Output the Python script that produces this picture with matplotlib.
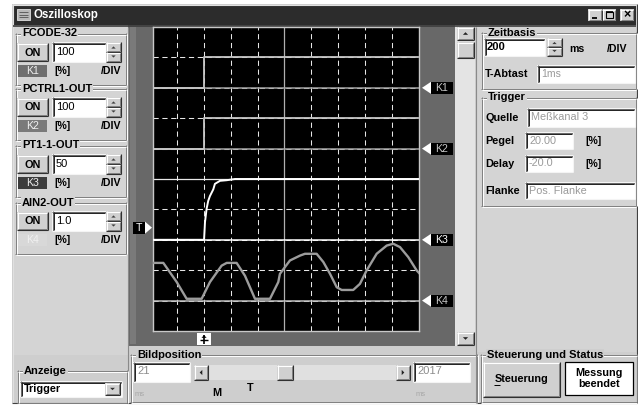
import matplotlib
matplotlib.use('Agg')
import matplotlib.pyplot as plt
from matplotlib.patches import Rectangle, Polygon
import numpy as np

plt.rcParams['font.family'] = ['Liberation Sans', 'DejaVu Sans']

# ---------------- data ----------------
channel_names = ['FCODE-32', 'PCTRL1-OUT', 'PT1-1-OUT', 'AIN2-OUT']
channel_labels = ['K1', 'K2', 'K3', 'K4']
channel_scale_txt = ['100', '100', '50', '1.0']
channel_scale = [100.0, 100.0, 50.0, 1.0]      # %/DIV
channel_offset = [8, 6, 3, 1]                   # zero level in divisions

time_k1 = [-400, 0, 0, 1600]                    # ms
k1 = [0, 0, 100, 100]                           # %
time_k2 = [-400, 0, 0, 1600]
k2 = [0, 0, 100, 100]
time_k3 = [-400, 0, 7, 19, 31, 44, 69, 81, 119, 169, 231, 1600]
k3 = [0, 0, 29, 51, 64, 72, 83, 92, 97, 98, 100, 100]
time_k4 = [-380, -304, -204, -130, -18, 44, 131, 169, 243, 305, 380, 492, 554, 566,
           641, 716, 753, 840, 890, 940, 990, 1027, 1113, 1163, 1213, 1288, 1363,
           1412, 1462, 1524, 1587, 1604]
k4 = [1.24, 1.24, 0.61, 0.06, 0.06, 0.61, 1.15, 1.24, 1.24, 0.82, 0.06, 0.06, 0.61,
      0.88, 1.32, 1.48, 1.54, 1.54, 1.27, 0.88, 0.44, 0.35, 0.35, 0.55, 0.99, 1.54,
      1.81, 1.87, 1.76, 1.43, 0.99, 0.91]

timebase = '200'
trigger_level = '20.00'
trigger_delay = '-20.0'
trigger_level_val = 20.0
trigger_channel = 2
bild_start = '21'
bild_end = '2017'

# ---------------- figure ----------------
W, H = 638, 405
fig = plt.figure(figsize=(W / 100, H / 100), dpi=100)
fig.patch.set_facecolor('white')
ui = fig.add_axes([0, 0, 1, 1])
ui.set_xlim(0, W)
ui.set_ylim(H, 0)
ui.axis('off')

BG = '#cecece'
PANEL = '#d4d4d4'
DARK = '#5a5a5a'
LIGHT = '#f4f4f4'
FS = 7.6


def rect(x, y, w, h, fc, ec='none', lw=0, z=1):
    ui.add_patch(Rectangle((x, y), w, h, facecolor=fc, edgecolor=ec, linewidth=lw, zorder=z))


def hline(x0, x1, y, c, lw=0.8, z=2):
    ui.plot([x0, x1], [y, y], color=c, lw=lw, zorder=z, solid_capstyle='butt')


def vline(x, y0, y1, c, lw=0.8, z=2):
    ui.plot([x, x], [y0, y1], color=c, lw=lw, zorder=z, solid_capstyle='butt')


def txt(x, y, s, c='black', fs=FS, bold=True, ha='left', va='center', z=5, **kw):
    ui.text(x, y, s, color=c, fontsize=fs, fontweight='bold' if bold else 'normal',
            ha=ha, va=va, zorder=z, **kw)


def sunken(x, y, w, h, fc='white'):
    rect(x, y, w, h, fc, z=2)
    hline(x, x + w, y + 0.5, '#6a6a6a', z=3)
    vline(x + 0.5, y, y + h, '#6a6a6a', z=3)
    hline(x + 1, x + w - 1, y + 1.5, '#202020', lw=0.7, z=3)
    vline(x + 1.5, y + 1, y + h - 1, '#202020', lw=0.7, z=3)
    hline(x, x + w, y + h - 0.5, LIGHT, z=3)
    vline(x + w - 0.5, y, y + h, LIGHT, z=3)


def raised(x, y, w, h, fc='#d0d0d0'):
    rect(x, y, w, h, fc, z=3)
    hline(x, x + w, y + 0.5, 'white', z=4)
    vline(x + 0.5, y, y + h, 'white', z=4)
    hline(x, x + w, y + h - 0.5, '#303030', z=4)
    vline(x + w - 0.5, y, y + h, '#303030', z=4)
    hline(x + 1, x + w - 1, y + h - 1.5, '#808080', lw=0.7, z=4)
    vline(x + w - 1.5, y + 1, y + h - 1, '#808080', lw=0.7, z=4)


def tri(cx, cy, s, direction, c='black'):
    if direction == 'up':
        pts = [(cx - s, cy + s / 2), (cx + s, cy + s / 2), (cx, cy - s / 2)]
    elif direction == 'down':
        pts = [(cx - s, cy - s / 2), (cx + s, cy - s / 2), (cx, cy + s / 2)]
    elif direction == 'left':
        pts = [(cx + s / 2, cy - s), (cx + s / 2, cy + s), (cx - s / 2, cy)]
    else:
        pts = [(cx - s / 2, cy - s), (cx - s / 2, cy + s), (cx + s / 2, cy)]
    ui.add_patch(Polygon(pts, closed=True, facecolor=c, edgecolor='none', zorder=6))


def groupbox(x, y, w, h, label, fs=8):
    for off, c in ((0, '#808080'), (1, 'white')):
        hline(x + off, x + w, y + off + 0.5, c, lw=0.7)
        hline(x + off, x + w, y + h - 1 + off + 0.5, c, lw=0.7)
        vline(x + off + 0.5, y + off, y + h, c, lw=0.7)
        vline(x + w - 1 + off + 0.5, y + off, y + h, c, lw=0.7)
    t = ui.text(x + 7, y + 0.5, label, fontsize=fs, fontweight='bold', ha='left',
                va='center', zorder=5, color='black')
    t.set_bbox(dict(facecolor=ui_bg[0], edgecolor='none', pad=0.6))


def spin(x, y, w, h):
    raised(x, y, w, h / 2)
    raised(x, y + h / 2, w, h / 2)
    tri(x + w / 2, y + h / 4 + 0.5, 2.2, 'up', '#404040')
    tri(x + w / 2, y + 3 * h / 4 - 0.5, 2.2, 'down', '#404040')


ui_bg = [BG]

# window
rect(12, 4, 625, 399, BG, z=0)
hline(12, 637, 4.5, '#e0e0e0')
vline(12.5, 4, 403, '#e0e0e0')
vline(636.5, 4, 403, '#404040')
hline(12, 637, 402.5, '#404040')

# title bar
rect(13, 5, 623, 20, '#2c2c2c', z=1)
rect(17, 9, 13, 11, '#b8b8b8', ec='#e0e0e0', lw=0.6, z=2)
for yy in (12, 14.5, 17):
    hline(19, 28, yy, '#505050', lw=0.6, z=3)
txt(34, 15, 'Oszilloskop', c='white', fs=8.3)
for bx, glyph in ((588, 'min'), (602, 'max'), (620, 'close')):
    raised(bx, 9, 14, 12)
    if glyph == 'min':
        hline(bx + 4, bx + 9, 17.5, 'black', lw=1.3, z=6)
    elif glyph == 'max':
        ui.add_patch(Rectangle((bx + 3.5, 11.5), 7, 6, facecolor='none', edgecolor='black', lw=0.8, zorder=6))
        hline(bx + 3.5, bx + 10.5, 12.3, 'black', lw=1.2, z=6)
    else:
        txt(bx + 7, 15.2, '×', fs=9, ha='center', bold=True)
hline(13, 636, 25.5, '#3c3c3c', lw=1.2)

# left panel
rect(13, 27, 115, 328, PANEL, z=1)
vline(127.5, 27, 403, '#8a8a8a')
ui_bg[0] = PANEL
tops = [33, 88, 145, 202]
kbox_fc = ['#6e6e6e', '#7a7a7a', '#3c3c3c', '#d8d8d8']
for i, top in enumerate(tops):
    groupbox(15, top, 111, 52, channel_names[i])
    raised(17, top + 10, 31, 18)
    txt(32.5, top + 19.5, 'ON', ha='center', fs=7.8)
    sunken(52, top + 9, 54, 20)
    txt(56, top + 19, channel_scale_txt[i], bold=False, fs=8)
    spin(106, top + 9, 15, 20)
    rect(18, top + 32, 29, 12, kbox_fc[i], z=3)
    txt(32.5, top + 38.3, channel_labels[i], c='#f0f0f0', ha='center', bold=False, fs=7.6)
    txt(54, top + 38.3, '[%]', fs=7.6)
    txt(121, top + 38.3, '/DIV', fs=7.6, ha='right')

ui_bg[0] = BG
groupbox(17, 370, 110, 33, 'Anzeige')
sunken(20, 381, 102, 16)
txt(24, 389.3, 'Trigger', fs=7.8)
raised(105, 383, 15, 12)
tri(112.5, 389, 2.4, 'down', '#303030')

# scope bezel
rect(128, 25, 327, 321, '#686868', z=1)
rect(130, 27, 6, 317, '#7a7a7a', z=1)

# right vertical scrollbar
rect(455, 26, 20, 320, '#e4e4e4', z=1)
raised(457, 27, 17, 13)
tri(465.5, 33.5, 2.6, 'up', '#202020')
raised(457, 42, 17, 16)
raised(457, 332, 17, 13)
tri(465.5, 338.5, 2.6, 'down', '#202020')

# scope screen geometry (pixels)
SX0, SX1 = 153, 419
SY0, SY1 = 27, 331
T0, T1 = -381, 1604
DIVH = (SY1 - SY0) / 10.0


def t2px(t):
    return SX0 + (t - T0) / (T1 - T0) * (SX1 - SX0)


def d2py(d):
    return SY1 - d * DIVH


# channel markers on the right
for i in range(4):
    py = d2py(channel_offset[i])
    ui.add_patch(Polygon([(422, py), (431, py - 6), (431, py + 6)], closed=True,
                         facecolor='white', edgecolor='none', zorder=5))
    rect(431, py - 6, 22, 12, 'black', z=5)
    txt(442, py + 0.3, channel_labels[i], c='white' if i == 2 else '#c8c8c8',
        bold=False, fs=7.6, ha='center', z=6)

# trigger level marker (left)
py = d2py(channel_offset[trigger_channel] + trigger_level_val / channel_scale[trigger_channel])
rect(133, py - 6, 12, 12, 'black', z=5)
txt(139, py + 0.3, 'T', c='white', bold=False, fs=7.6, ha='center', z=6)
ui.add_patch(Polygon([(145, py - 6), (145, py + 6), (152, py)], closed=True,
                     facecolor='white', edgecolor='none', zorder=5))

# trigger position marker (bottom)
px = t2px(0)
rect(px - 7, 333, 14, 12, 'white', z=5)
vline(px, 335, 344, 'black', lw=1.2, z=6)
hline(px - 4, px + 4, 339.5, 'black', lw=1.0, z=6)
tri(px, 336.5, 2.6, 'up', 'black')

# Bildposition
groupbox(130, 354, 347, 48, 'Bildposition')
sunken(133, 362, 57, 20)
txt(137, 371, bild_start, c='#8c8c8c', bold=False, fs=8)
rect(194, 365, 216, 15, '#e0e0e0', z=2)
raised(194, 365, 14, 15)
tri(201, 372.5, 2.6, 'left', '#202020')
raised(277, 365, 16, 15)
raised(396, 365, 14, 15)
tri(403, 372.5, 2.6, 'right', '#202020')
sunken(413, 362, 57, 20)
txt(417, 371, bild_end, c='#8c8c8c', bold=False, fs=8)
txt(135, 394, 'ms', c='#a8a8a8', bold=False, fs=5.5)
txt(416, 394, 'ms', c='#a8a8a8', bold=False, fs=5.5)
txt(217, 392.5, 'M', fs=7.8, ha='center')
txt(250, 388, 'T', fs=7.8, ha='center')

# right panel
rect(476, 27, 160, 325, PANEL, z=1)
vline(475.5, 27, 403, '#8a8a8a')
ui_bg[0] = PANEL
groupbox(481, 32, 155, 57, 'Zeitbasis')
sunken(484, 38, 61, 18)
txt(487, 47.5, timebase, fs=8, bold=True)
spin(547, 38, 15, 18)
txt(569, 48.5, 'ms', fs=7.6)
txt(627, 48.5, '/DIV', fs=7.6, ha='right')
txt(485, 74, 'T-Abtast', fs=7.8)
sunken(537, 65, 98, 18)
txt(541, 74, '1ms', c='#9a9a9a', bold=False, fs=7.6)

groupbox(481, 97, 155, 109, 'Trigger')
txt(485, 118, 'Quelle', fs=7.8)
sunken(527, 108, 108, 19)
txt(531, 117.5, 'Meßkanal 3', c='#9a9a9a', bold=False, fs=7.8)
txt(485, 141, 'Pegel', fs=7.8)
sunken(525, 132, 48, 17)
txt(529, 140.5, trigger_level, c='#9a9a9a', bold=False, fs=7.8)
txt(585, 141, '[%]', fs=7.6)
txt(485, 164, 'Delay', fs=7.8)
sunken(525, 155, 48, 17)
txt(529, 163.5, trigger_delay, c='#9a9a9a', bold=False, fs=7.8)
txt(585, 164, '[%]', fs=7.6)
txt(485, 190.5, 'Flanke', fs=7.8)
sunken(525, 182, 110, 17)
txt(529, 190.5, 'Pos. Flanke', c='#9a9a9a', bold=False, fs=7.8)

ui_bg[0] = BG
groupbox(480, 354, 157, 48, 'Steuerung und Status')
raised(483, 362, 77, 35)
txt(521.5, 379.5, 'Steuerung', fs=7.8, ha='center')
hline(494, 500, 384.5, 'black', lw=0.7, z=6)
rect(565, 362, 68, 33, 'white', ec='black', lw=0.9, z=3)
txt(599, 372.5, 'Messung', fs=7.8, ha='center')
txt(599, 384, 'beendet', fs=7.8, ha='center')

# ---------------- scope screen ----------------
sc = fig.add_axes([SX0 / W, 1 - SY1 / H, (SX1 - SX0) / W, (SY1 - SY0) / H])
sc.set_facecolor('black')
sc.set_xlim(T0, T1)
sc.set_ylim(0, 10)
sc.set_xticks([])
sc.set_yticks([])
for s in sc.spines.values():
    s.set_color('#c8c8c8')
    s.set_linewidth(1.0)

grid_t = [-400 + 200 * k for k in range(1, 10)]
for k, t in enumerate(grid_t, start=1):
    if k == 5:
        sc.axvline(t, color='#b0b0b0', lw=0.9)
    else:
        sc.axvline(t, color='#e6e6e6', lw=0.75, ls=(0, (5, 3.5)))
for j in range(1, 10):
    if j == 5:
        sc.axhline(j, color='#e8e8e8', lw=0.9)
    else:
        sc.axhline(j, color='#e6e6e6', lw=0.75, ls=(0, (5, 3.5)))

zero_colors = ['#a4a4a4', '#a4a4a4', '#ffffff', '#c0c0c0']
for i in range(4):
    sc.axhline(channel_offset[i], color=zero_colors[i], lw=1.1)

series = [(time_k1, k1, '#c8c8c8', 1.3), (time_k2, k2, '#c8c8c8', 1.3),
          (time_k3, k3, '#ffffff', 1.4), (time_k4, k4, '#9c9c9c', 1.7)]
for i, (tt, vv, col, lw) in enumerate(series):
    yy = channel_offset[i] + np.array(vv, dtype=float) / channel_scale[i]
    sc.plot(tt, yy, color=col, lw=lw, solid_joinstyle='round', zorder=4)

fig.savefig('out.png', dpi=100, facecolor=fig.get_facecolor())
